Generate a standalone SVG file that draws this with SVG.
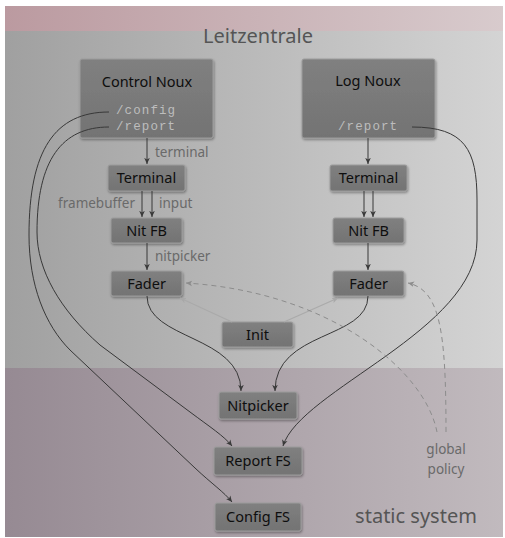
<svg xmlns="http://www.w3.org/2000/svg" width="505" height="538" viewBox="0 0 505 538">
<defs>
<linearGradient id="gPink" x1="0" y1="0" x2="1" y2="0"><stop offset="0" stop-color="#bb9aa0"/><stop offset="1" stop-color="#d8cbcd"/></linearGradient>
<linearGradient id="gGray" x1="0" y1="0" x2="1" y2="0"><stop offset="0" stop-color="#a0a0a0"/><stop offset="1" stop-color="#d4d4d4"/></linearGradient>
<linearGradient id="gStatic" x1="0" y1="0" x2="1" y2="0"><stop offset="0" stop-color="#968a93"/><stop offset="1" stop-color="#c1babe"/></linearGradient>
<linearGradient id="gBox" x1="0" y1="0" x2="0" y2="1"><stop offset="0" stop-color="#808080"/><stop offset="1" stop-color="#737373"/></linearGradient>
<filter id="sh" x="-20%" y="-20%" width="140%" height="150%"><feDropShadow dx="0.8" dy="1.5" stdDeviation="1.2" flood-color="#000" flood-opacity="0.35"/></filter>
<marker id="ah" viewBox="0 0 8 8" refX="7" refY="4" markerWidth="7" markerHeight="7" markerUnits="userSpaceOnUse" orient="auto"><path d="M0,0.8 L7,4 L0,7.2 L1.8,4 z" fill="#3a3a3a"/></marker>
<marker id="ahl" viewBox="0 0 8 8" refX="7" refY="4" markerWidth="7" markerHeight="7" markerUnits="userSpaceOnUse" orient="auto"><path d="M0,0.8 L7,4 L0,7.2 L1.8,4 z" fill="#a8a8a8"/></marker>
<marker id="ahd" viewBox="0 0 8 8" refX="7" refY="4" markerWidth="7" markerHeight="7" markerUnits="userSpaceOnUse" orient="auto"><path d="M0,0.8 L7,4 L0,7.2 L1.8,4 z" fill="#8c8c8c"/></marker>
</defs>
<style>
.box{fill:url(#gBox);stroke:#9c9c9c;stroke-width:1;filter:url(#sh)}
.nt{font-family:"Noto Sans","DejaVu Sans",sans-serif;font-size:14.5px;fill:#0e0e0e;text-anchor:middle}
.mono{font-family:"Liberation Mono","Courier New",monospace;font-size:12.5px;letter-spacing:1.1px;fill:#bdbdbd}
.lbl{font-family:"Noto Sans","DejaVu Sans",sans-serif;font-size:13.5px;fill:#6a6a6a}
.big{font-family:"Noto Sans","DejaVu Sans",sans-serif;font-size:20px;fill:#555555}
.c{fill:none;stroke:#383838;stroke-width:1;marker-end:url(#ah)}
.cl{fill:none;stroke:#aaaaaa;stroke-width:1.3;marker-end:url(#ahl)}
.cd{fill:none;stroke:#8c8c8c;stroke-width:1;stroke-dasharray:5 4;marker-end:url(#ahd)}
</style>
<rect x="0" y="0" width="505" height="538" fill="#ffffff"/>
<rect x="5" y="6" width="498" height="25" fill="url(#gPink)"/>
<rect x="5" y="31" width="498" height="337" fill="url(#gGray)"/>
<rect x="5" y="368" width="498" height="169" fill="url(#gStatic)"/>
<text class="big" x="258" y="43" text-anchor="middle">Leitzentrale</text>
<text class="big" x="416" y="523" text-anchor="middle">static system</text>

<g id="control-noux"><rect class="box" x="80" y="59" width="133" height="79" rx="2"/><text class="nt" x="147" y="87">Control Noux</text><text class="mono" x="116" y="114">/config</text><text class="mono" x="116" y="129.5">/report</text></g>
<g id="log-noux"><rect class="box" x="302" y="59" width="133" height="79" rx="2"/><text class="nt" x="368" y="86">Log Noux</text><text class="mono" x="338" y="129.5">/report</text></g>
<g id="terminal-l"><rect class="box" x="108" y="165" width="77" height="26" rx="2"/><text class="nt" x="146.5" y="183">Terminal</text></g>
<g id="terminal-r"><rect class="box" x="330" y="165" width="77" height="26" rx="2"/><text class="nt" x="368.5" y="183">Terminal</text></g>
<g id="nitfb-l"><rect class="box" x="111" y="218" width="71" height="25" rx="2"/><text class="nt" x="146.5" y="235.5">Nit FB</text></g>
<g id="nitfb-r"><rect class="box" x="333" y="218" width="71" height="25" rx="2"/><text class="nt" x="368.5" y="235.5">Nit FB</text></g>
<g id="fader-l"><rect class="box" x="111" y="271" width="71" height="25" rx="2"/><text class="nt" x="146.5" y="288.5">Fader</text></g>
<g id="fader-r"><rect class="box" x="333" y="271" width="71" height="25" rx="2"/><text class="nt" x="368.5" y="288.5">Fader</text></g>
<g id="init"><rect class="box" x="222" y="322" width="71" height="25" rx="2"/><text class="nt" x="257.5" y="339.5">Init</text></g>
<g id="nitpicker"><rect class="box" x="219" y="392" width="78" height="27" rx="2"/><text class="nt" x="258" y="410.5">Nitpicker</text></g>
<g id="report-fs"><rect class="box" x="214" y="447" width="88" height="28" rx="2"/><text class="nt" x="258" y="466">Report FS</text></g>
<g id="config-fs"><rect class="box" x="215" y="503" width="86" height="28" rx="2"/><text class="nt" x="258" y="522">Config FS</text></g>
<g id="global-policy"><text class="lbl" x="446" y="454" text-anchor="middle">global</text><text class="lbl" x="446" y="474" text-anchor="middle">policy</text></g>

<g id="connectors">
<path class="c" d="M147,138 L147,164"/>
<path class="c" d="M142,191 L142,217"/>
<path class="c" d="M152,191 L152,217"/>
<path class="c" d="M147,243 L147,270"/>
<path class="c" d="M368,138 L368,164"/>
<path class="c" d="M364,191 L364,217"/>
<path class="c" d="M373,191 L373,217"/>
<path class="c" d="M368,243 L368,270"/>
<path class="c" d="M147,296 C147,340 241,335 241,391"/>
<path class="c" d="M368,296 C368,340 275,330 275,391"/>
<path class="c" d="M109,112 C55,112 29,150 29,235 C29,285 45,325 70,350 L195,468 C212,484 224,492 232,502"/>
<path class="c" d="M109,127 C62,127 37,160 37,232 C37,270 60,310 100,345 L190,412 C210,427 224,436 232,446"/>
<path class="c" d="M412,127 C465,127 477,150 477,200 L477,240 C477,330 300,390 283,446"/>
<path class="cl" d="M232,322 L180,298"/>
<path class="cl" d="M284,322 L338,298"/>
<path class="cd" d="M437,432 C425,370 330,292 186,283"/>
<path class="cd" d="M446,432 C446,330 440,290 408,283"/>
<text class="lbl" x="155" y="157">terminal</text>
<text class="lbl" x="135" y="208" text-anchor="end">framebuffer</text>
<text class="lbl" x="159" y="208">input</text>
<text class="lbl" x="155" y="261">nitpicker</text>
</g>
</svg>
